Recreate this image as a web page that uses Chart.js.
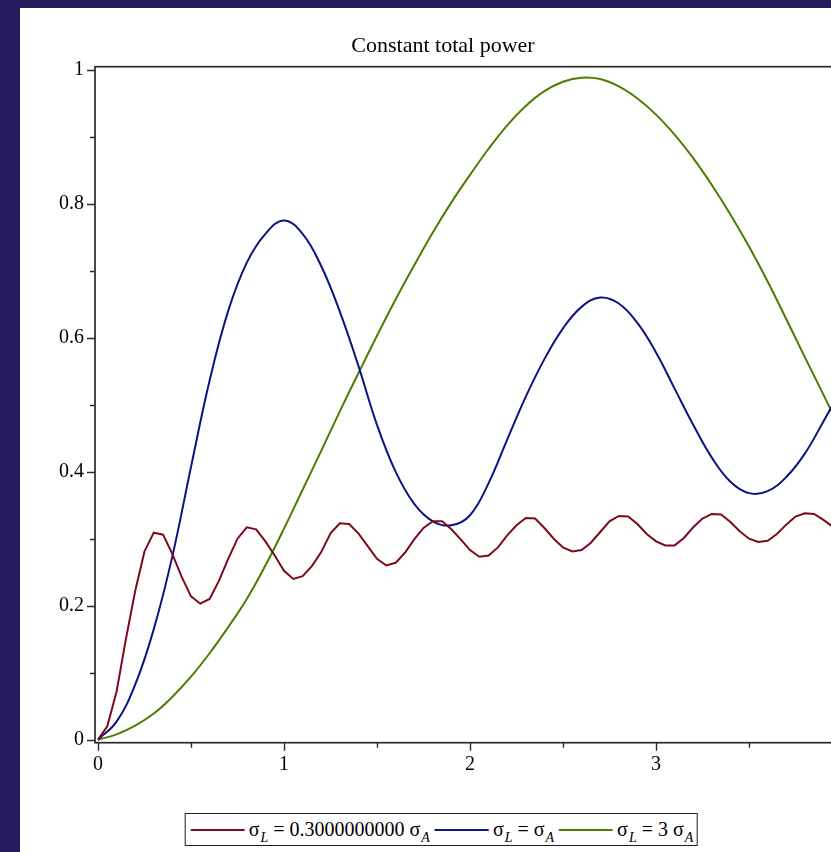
<!DOCTYPE html>
<html>
<head>
<meta charset="utf-8">
<title>Constant total power</title>
<script src="https://cdn.jsdelivr.net/npm/chart.js@4.4.1/dist/chart.umd.min.js"></script>
<style>
  html, body { margin: 0; padding: 0; width: 831px; height: 852px; overflow: hidden; background: #231b5b; }
  #sheet { position: absolute; left: 20px; top: 8px; width: 846px; height: 844px; background: #ffffff; }
  #plot { position: absolute; left: 0; top: 0; }
  #legend {
    position: absolute; left: 421px; top: 805px; transform: translateX(-50%);
    height: 31px; display: flex; align-items: center; white-space: nowrap;
    border: 1.6px solid #1e1e1e; padding: 0 3px 0 5px;
    font-family: 'Liberation Serif', 'Times New Roman', serif; font-size: 20px; color: #000;
  }
  #legend .item { display: flex; align-items: center; margin-right: 5px; }
  #legend .item:last-child { margin-right: 0; }
  #legend .swatch { display: inline-block; width: 54px; height: 2px; margin-right: 4px; }
  #legend sub { font-size: 14px; font-style: italic; vertical-align: baseline; position: relative; top: 6px; margin-left: 1px; }
</style>
</head>
<body>
<div id="sheet">
  <canvas id="plot" width="846" height="800"></canvas>
  <div id="legend"></div>
</div>
<script>
// sample positions (time) and curve values
const tRed = [0, 0.05, 0.1, 0.15, 0.2, 0.25, 0.3, 0.35, 0.4, 0.45, 0.5, 0.55, 0.6, 0.65, 0.7, 0.75, 0.8, 0.85, 0.9, 0.95,
  1.0, 1.05, 1.1, 1.15, 1.2, 1.25, 1.3, 1.35, 1.4, 1.45, 1.5, 1.55, 1.6, 1.65, 1.7, 1.75, 1.8, 1.85, 1.9, 1.95,
  2.0, 2.05, 2.1, 2.15, 2.2, 2.25, 2.3, 2.35, 2.4, 2.45, 2.5, 2.55, 2.6, 2.65, 2.7, 2.75, 2.8, 2.85, 2.9, 2.95,
  3.0, 3.05, 3.1, 3.15, 3.2, 3.25, 3.3, 3.35, 3.4, 3.45, 3.5, 3.55, 3.6, 3.65, 3.7, 3.75, 3.8, 3.85, 3.9, 3.95];
const pRed = [0.000, 0.020, 0.072, 0.150, 0.222, 0.281, 0.309, 0.306, 0.277, 0.243, 0.214, 0.203, 0.210, 0.237, 0.270, 0.300, 0.317, 0.314, 0.296, 0.275,
  0.252, 0.240, 0.244, 0.259, 0.280, 0.308, 0.323, 0.322, 0.308, 0.289, 0.270, 0.260, 0.264, 0.279, 0.299, 0.316, 0.326, 0.326, 0.314, 0.299,
  0.283, 0.273, 0.275, 0.287, 0.305, 0.320, 0.331, 0.330, 0.316, 0.300, 0.287, 0.281, 0.283, 0.294, 0.310, 0.326, 0.334, 0.333, 0.322, 0.307,
  0.296, 0.290, 0.290, 0.301, 0.317, 0.330, 0.337, 0.336, 0.325, 0.311, 0.300, 0.295, 0.297, 0.307, 0.321, 0.333, 0.338, 0.337, 0.328, 0.318];

const tSmooth = [0, 0.1, 0.2, 0.3, 0.4, 0.5, 0.6, 0.7, 0.8, 0.9, 1.0, 1.1, 1.2, 1.3, 1.4, 1.5, 1.6, 1.7, 1.8, 1.9,
  2.0, 2.1, 2.2, 2.3, 2.4, 2.5, 2.6, 2.7, 2.8, 2.9, 3.0, 3.1, 3.2, 3.3, 3.4, 3.5, 3.6, 3.7, 3.8, 3.9, 4.0];
const pBlue = [0, 0.027, 0.082, 0.165, 0.274, 0.407, 0.536, 0.640, 0.712, 0.755, 0.775, 0.755, 0.707, 0.639, 0.558, 0.470, 0.400, 0.352, 0.326, 0.320,
  0.335, 0.383, 0.448, 0.512, 0.568, 0.614, 0.646, 0.660, 0.651, 0.622, 0.578, 0.524, 0.470, 0.421, 0.385, 0.368, 0.371, 0.392, 0.427, 0.475, 0.525];
const pGreen = [0, 0.008, 0.021, 0.039, 0.064, 0.094, 0.129, 0.168, 0.210, 0.260, 0.315, 0.373, 0.431, 0.490, 0.547, 0.603, 0.657, 0.708, 0.757, 0.802,
  0.843, 0.882, 0.917, 0.946, 0.968, 0.982, 0.988, 0.986, 0.975, 0.957, 0.933, 0.903, 0.868, 0.828, 0.784, 0.736, 0.684, 0.628, 0.571, 0.515, 0.458];

const seriesLabels = ['σ_L = 0.3000000000 σ_A', 'σ_L = σ_A', 'σ_L = 3 σ_A'];
const seriesColors = ['#7d0a1c', '#0b1580', '#4b7d00'];

const xMajor = [0, 1, 2, 3, 4];
const xMinor = [0.5, 1.5, 2.5, 3.5];
const yMajor = [0, 0.2, 0.4, 0.6, 0.8, 1];
const yMinor = [0.1, 0.3, 0.5, 0.7, 0.9];
const yTickText = ['0', '0.2', '0.4', '0.6', '0.8', '1'];

const axisColor = '#2a2a2a';
const serif = "'Liberation Serif', 'Times New Roman', serif";

const pairs = (xs, ys) => xs.map((x, i) => ({ x: x, y: ys[i] }));

// boxed frame plus outward tick marks
const boxAxes = {
  id: 'boxAxes',
  beforeDatasetsDraw(chart) {
    const { ctx, chartArea: a, scales: { x, y } } = chart;
    ctx.save();
    ctx.strokeStyle = axisColor;
    ctx.lineWidth = 1.7;
    ctx.strokeRect(a.left, a.top, a.right - a.left, a.bottom - a.top);
    ctx.lineWidth = 1.4;
    ctx.beginPath();
    const xt = (vals, len) => vals.forEach(v => {
      const p = Math.round(x.getPixelForValue(v)) + 0.5;
      ctx.moveTo(p, a.bottom); ctx.lineTo(p, a.bottom + len);
    });
    const yt = (vals, len) => vals.forEach(v => {
      const p = Math.round(y.getPixelForValue(v)) + 0.5;
      ctx.moveTo(a.left, p); ctx.lineTo(a.left - len, p);
    });
    xt(xMajor, 8); xt(xMinor, 5);
    yt(yMajor, 8); yt(yMinor, 5);
    ctx.stroke();
    ctx.restore();
  }
};

// legend as HTML so the subscripts stay real text
const htmlLegend = {
  id: 'htmlLegend',
  afterUpdate(chart) {
    const box = document.getElementById('legend');
    box.innerHTML = '';
    chart.data.datasets.forEach(ds => {
      const item = document.createElement('span');
      item.className = 'item';
      const sw = document.createElement('span');
      sw.className = 'swatch';
      sw.style.background = ds.borderColor;
      const txt = document.createElement('span');
      txt.innerHTML = ds.label.replace(/_(\w)/g, '<sub>$1</sub>');
      item.appendChild(sw);
      item.appendChild(txt);
      box.appendChild(item);
    });
  }
};

const mk = (label, color, pts, smooth) => ({
  label: label,
  data: pts,
  borderColor: color,
  backgroundColor: color,
  borderWidth: 2,
  pointRadius: 0,
  fill: false,
  tension: smooth ? 0.4 : 0,
  cubicInterpolationMode: 'default'
});

new Chart(document.getElementById('plot'), {
  type: 'line',
  data: {
    datasets: [
      mk(seriesLabels[0], seriesColors[0], pairs(tRed, pRed), false),
      mk(seriesLabels[1], seriesColors[1], pairs(tSmooth, pBlue), true),
      mk(seriesLabels[2], seriesColors[2], pairs(tSmooth, pGreen), true)
    ]
  },
  options: {
    responsive: false,
    animation: false,
    devicePixelRatio: 1,
    layout: { padding: { left: 21, right: 21, top: 0, bottom: 0 } },
    plugins: {
      legend: { display: false },
      tooltip: { enabled: false },
      title: {
        display: true,
        text: 'Constant total power',
        color: '#000',
        font: { family: serif, size: 22, weight: 'normal' },
        padding: { top: 25.5, bottom: 6.8 }
      }
    },
    scales: {
      x: {
        type: 'linear',
        min: -0.0161,
        max: 4.016,
        border: { display: false },
        grid: { display: true, drawOnChartArea: false, drawTicks: false, color: 'rgba(0,0,0,0)' },
        afterBuildTicks: s => { s.ticks = xMajor.filter(v => v <= 3).map(v => ({ value: v })); },
        afterFit: s => { s.height = 65.3; },
        ticks: {
          color: '#000',
          padding: 10,
          maxRotation: 0,
          font: { family: serif, size: 20 },
          callback: v => String(v)
        }
      },
      y: {
        type: 'linear',
        min: -0.0045,
        max: 1.0045,
        border: { display: false },
        grid: { display: true, drawOnChartArea: false, drawTicks: false, color: 'rgba(0,0,0,0)' },
        afterBuildTicks: s => { s.ticks = yMajor.map(v => ({ value: v })); },
        afterFit: s => { s.width = 54; },
        ticks: {
          color: '#000',
          padding: 11,
          font: { family: serif, size: 20 },
          callback: v => yTickText[yMajor.findIndex(m => Math.abs(m - v) < 1e-9)]
        }
      }
    }
  },
  plugins: [boxAxes, htmlLegend]
});
</script>
</body>
</html>
